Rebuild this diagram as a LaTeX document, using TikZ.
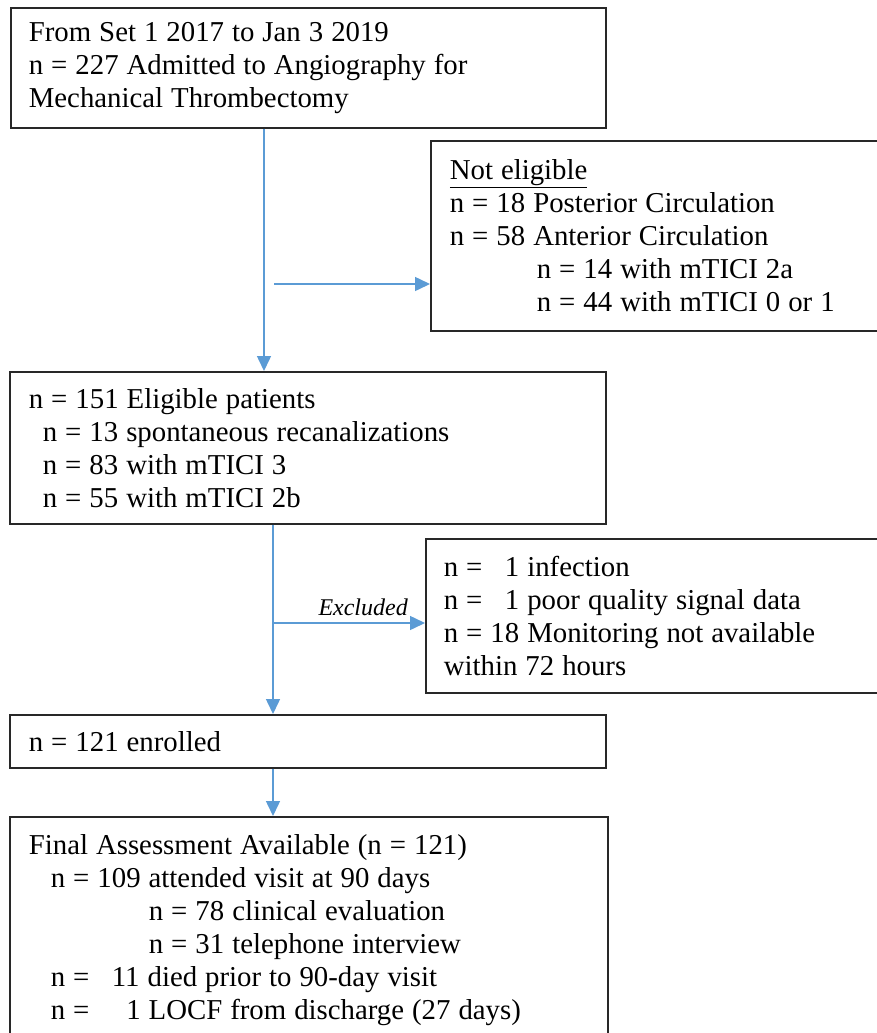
\documentclass[tikz,border=0pt]{standalone}
\usepackage{fontspec}
\setmainfont{Liberation Serif}
\usetikzlibrary{arrows.meta}
\definecolor{flowblue}{RGB}{91,155,213}
\definecolor{boxline}{RGB}{40,40,40}
\begin{document}
\begin{tikzpicture}[x=1pt,y=-1pt,
  box/.style={draw=boxline,line width=1.7pt,rectangle,anchor=north west,align=left,
    inner ysep=0pt,font=\fontsize{28.8}{33}\selectfont,
    execute at begin node={\spaceskip=8pt\relax}},
  arr/.style={draw=flowblue,line width=1.5pt,-{Triangle[length=15pt,width=14pt]}},
  lab/.style={font=\fontsize{24}{28}\selectfont\itshape,anchor=south east,inner sep=0pt}]
\useasboundingbox (0,0) rectangle (877,1033);
\clip (0,0) rectangle (877,1033);
\fill[white] (0,0) rectangle (877,1033);
\node[box,inner xsep=18pt,text width=559pt,minimum width=595pt,minimum height=120pt] (b1) at (10,7)
  {From Set 1 2017 to Jan 3 2019\\n = 227 Admitted to Angiography for\\Mechanical Thrombectomy};
\node[box,inner xsep=19pt,text width=427pt,minimum width=465pt,minimum height=190pt] (b2) at (430,140)
  {\underline{Not eligible}\\n = 18 Posterior Circulation\\n = 58 Anterior Circulation\\
   \hspace*{87pt}n = 14 with mTICI 2a\\\hspace*{87pt}n = 44 with mTICI 0 or 1};
\node[box,inner xsep=19pt,text width=558pt,minimum width=596pt,minimum height=152pt] (b3) at (9,371)
  {n = 151 Eligible patients\\\hspace*{14pt}n = 13 spontaneous recanalizations\\
   \hspace*{14pt}n = 83 with mTICI 3\\\hspace*{14pt}n = 55 with mTICI 2b};
\node[box,inner xsep=18pt,text width=434pt,minimum width=470pt,minimum height=154pt] (b4) at (425,538)
  {n = \phantom{1}1 infection\\n = \phantom{1}1 poor quality signal data\\
   n = 18 Monitoring not available\\within 72 hours};
\node[box,inner xsep=19pt,text width=558pt,minimum width=596pt,minimum height=53pt] (b5) at (9,714)
  {n = 121 enrolled};
\node[box,inner xsep=19pt,text width=560pt,minimum width=598pt,minimum height=226pt] (b6) at (9,816)
  {Final Assessment Available (n = 121)\\
   \hspace*{22pt}n = 109 attended visit at 90 days\\
   \hspace*{120pt}n = 78 clinical evaluation\\
   \hspace*{120pt}n = 31 telephone interview\\
   \hspace*{22pt}n = \phantom{1}11 died prior to 90-day visit\\
   \hspace*{22pt}n = \phantom{10}1 LOCF from discharge (27 days)};
\coordinate (v1) at (264,0);
\coordinate (v2) at (273,0);
\coordinate (j1) at (274,284);
\coordinate (j2) at (273,623);
\draw[arr] (b1.south -| v1) -- (b3.north -| v1);
\draw[arr] (j1) -- (j1 -| b2.west);
\draw[arr] (b3.south -| v2) -- (b5.north -| v2);
\draw[arr] (j2) -- (j2 -| b4.west);
\node[lab] (exl) at (408,616) {Excluded};
\draw[arr] (b5.south -| v2) -- (b6.north -| v2);
\end{tikzpicture}
\end{document}
